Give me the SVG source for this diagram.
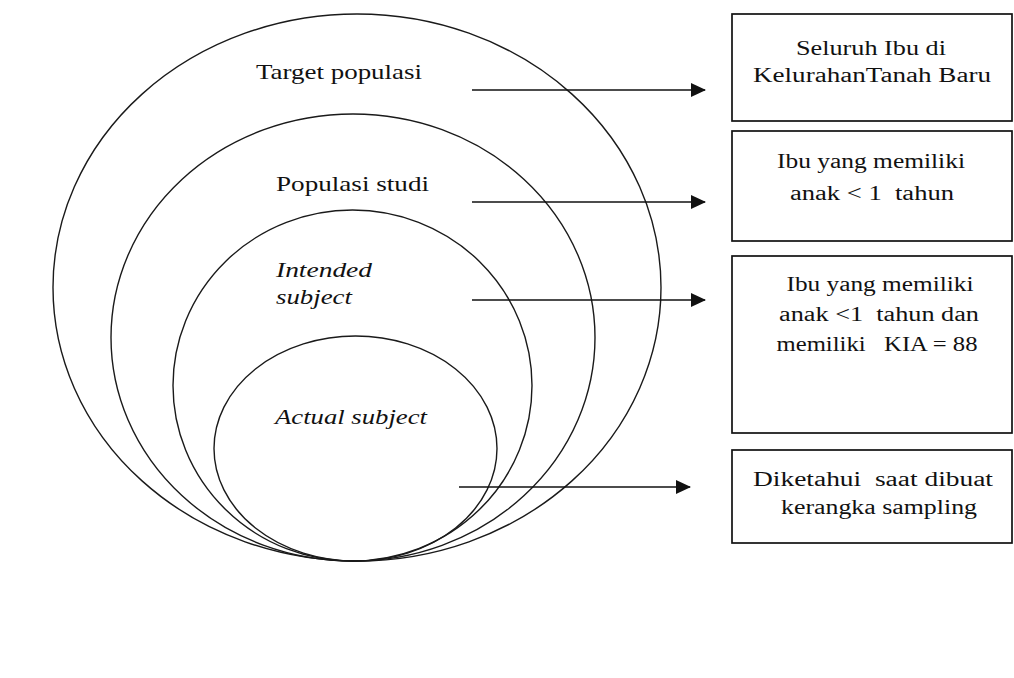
<svg xmlns="http://www.w3.org/2000/svg" width="1014" height="678" viewBox="0 0 1014 678">
<defs>
<style>
.ell{fill:none;stroke:#1a1a1a;stroke-width:1.4}
.box{fill:#fff;stroke:#111;stroke-width:1.7}
.lbl{font-family:"Liberation Serif","Times New Roman",serif;font-size:22px;fill:#111}
.it{font-style:italic}
.bt{font-family:"Liberation Serif","Times New Roman",serif;font-size:20px;fill:#111;text-anchor:middle}
.arr{stroke:#111;stroke-width:1.6;fill:none;marker-end:url(#ah)}
</style>
<marker id="ah" markerWidth="15" markerHeight="14" refX="14" refY="7" orient="auto" markerUnits="userSpaceOnUse">
<path d="M0,0 L15,7 L0,14 z" fill="#111"/>
</marker>
</defs>
<rect width="1014" height="678" fill="#fff"/>

<g id="target-populasi">
<ellipse class="ell" cx="357" cy="287.5" rx="304" ry="273.5"/>
<text class="lbl" x="256" y="78.5" textLength="166" lengthAdjust="spacingAndGlyphs">Target populasi</text>
</g>
<g id="populasi-studi">
<ellipse class="ell" cx="353" cy="337.5" rx="242" ry="223.5"/>
<text class="lbl" x="276" y="191" textLength="153" lengthAdjust="spacingAndGlyphs">Populasi studi</text>
</g>
<g id="intended-subject">
<ellipse class="ell" cx="352.5" cy="385.5" rx="179.5" ry="175.5"/>
<text class="lbl it" x="276" y="277" textLength="96" lengthAdjust="spacingAndGlyphs">Intended</text>
<text class="lbl it" x="276" y="304" textLength="76" lengthAdjust="spacingAndGlyphs">subject</text>
</g>
<g id="actual-subject">
<ellipse class="ell" cx="355.5" cy="448.5" rx="141.5" ry="112.5"/>
<text class="lbl it" x="275" y="424" textLength="152" lengthAdjust="spacingAndGlyphs">Actual subject</text>
</g>

<g id="connectors">
<line class="arr" x1="472" y1="90" x2="705" y2="90"/>
<line class="arr" x1="472" y1="202" x2="705" y2="202"/>
<line class="arr" x1="472" y1="300" x2="705" y2="300"/>
<line class="arr" x1="459" y1="487" x2="690" y2="487"/>
</g>

<g id="box-seluruh-ibu">
<rect class="box" x="732" y="14" width="280" height="107"/>
<text class="bt" x="871" y="55" textLength="150" lengthAdjust="spacingAndGlyphs">Seluruh Ibu di</text>
<text class="bt" x="872" y="82" textLength="238" lengthAdjust="spacingAndGlyphs">KelurahanTanah Baru</text>
</g>
<g id="box-ibu-anak">
<rect class="box" x="732" y="131" width="280" height="110"/>
<text class="bt" x="871" y="168" textLength="188" lengthAdjust="spacingAndGlyphs">Ibu yang memiliki</text>
<text class="bt" x="872" y="200" textLength="164" lengthAdjust="spacingAndGlyphs" xml:space="preserve">anak &lt; 1  tahun</text>
</g>
<g id="box-ibu-kia">
<rect class="box" x="732" y="256" width="280" height="177"/>
<text class="bt" x="880" y="291" textLength="187" lengthAdjust="spacingAndGlyphs">Ibu yang memiliki</text>
<text class="bt" x="879" y="321" textLength="200" lengthAdjust="spacingAndGlyphs" xml:space="preserve">anak &lt;1  tahun dan</text>
<text class="bt" x="877" y="351" textLength="201" lengthAdjust="spacingAndGlyphs" xml:space="preserve">memiliki   KIA = 88</text>
</g>
<g id="box-diketahui">
<rect class="box" x="732" y="450" width="280" height="93"/>
<text class="bt" x="873" y="486" textLength="240" lengthAdjust="spacingAndGlyphs" xml:space="preserve">Diketahui  saat dibuat</text>
<text class="bt" x="879" y="514" textLength="196" lengthAdjust="spacingAndGlyphs">kerangka sampling</text>
</g>
</svg>
